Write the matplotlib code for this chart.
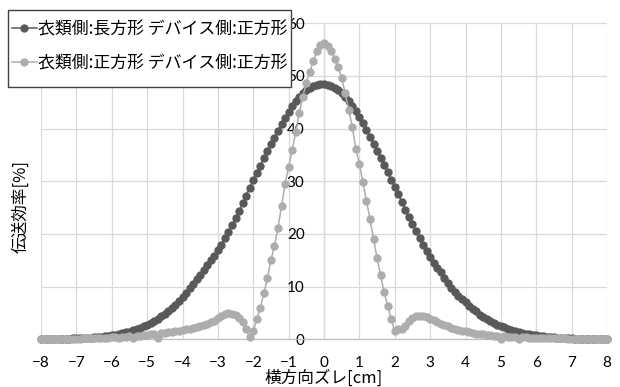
import matplotlib
matplotlib.use('Agg')
import matplotlib.pyplot as plt
from matplotlib.patches import Rectangle

# Lateral offset [cm], measured every 0.1 cm
offset_cm = [
    -8.0, -7.9, -7.8, -7.7, -7.6, -7.5, -7.4, -7.3, -7.2, -7.1,
    -7.0, -6.9, -6.8, -6.7, -6.6, -6.5, -6.4, -6.3, -6.2, -6.1,
    -6.0, -5.9, -5.8, -5.7, -5.6, -5.5, -5.4, -5.3, -5.2, -5.1,
    -5.0, -4.9, -4.8, -4.7, -4.6, -4.5, -4.4, -4.3, -4.2, -4.1,
    -4.0, -3.9, -3.8, -3.7, -3.6, -3.5, -3.4, -3.3, -3.2, -3.1,
    -3.0, -2.9, -2.8, -2.7, -2.6, -2.5, -2.4, -2.3, -2.2, -2.1,
    -2.0, -1.9, -1.8, -1.7, -1.6, -1.5, -1.4, -1.3, -1.2, -1.1,
    -1.0, -0.9, -0.8, -0.7, -0.6, -0.5, -0.4, -0.3, -0.2, -0.1,
    0.0,
    0.1, 0.2, 0.3, 0.4, 0.5, 0.6, 0.7, 0.8, 0.9, 1.0,
    1.1, 1.2, 1.3, 1.4, 1.5, 1.6, 1.7, 1.8, 1.9, 2.0,
    2.1, 2.2, 2.3, 2.4, 2.5, 2.6, 2.7, 2.8, 2.9, 3.0,
    3.1, 3.2, 3.3, 3.4, 3.5, 3.6, 3.7, 3.8, 3.9, 4.0,
    4.1, 4.2, 4.3, 4.4, 4.5, 4.6, 4.7, 4.8, 4.9, 5.0,
    5.1, 5.2, 5.3, 5.4, 5.5, 5.6, 5.7, 5.8, 5.9, 6.0,
    6.1, 6.2, 6.3, 6.4, 6.5, 6.6, 6.7, 6.8, 6.9, 7.0,
    7.1, 7.2, 7.3, 7.4, 7.5, 7.6, 7.7, 7.8, 7.9, 8.0,
]

# clothing side: rectangle / device side: square
eff_rect = [
    0.05, 0.05, 0.06, 0.07, 0.08, 0.09, 0.10, 0.12, 0.14, 0.16,
    0.18, 0.21, 0.24, 0.28, 0.32, 0.37, 0.43, 0.50, 0.58, 0.67,
    0.77, 0.88, 1.00, 1.14, 1.30, 1.48, 1.68, 1.90, 2.15, 2.45,
    2.75, 3.10, 3.50, 3.90, 4.35, 4.85, 5.40, 6.00, 6.60, 7.30,
    8.00, 8.85, 9.70, 10.55, 11.40, 12.30, 13.20, 14.10, 15.00, 15.90,
    16.90, 18.00, 19.20, 20.40, 21.70, 23.00, 24.40, 25.80, 27.30, 28.80,
    30.20, 31.60, 33.00, 34.40, 35.70, 37.00, 38.30, 39.60, 40.80, 42.00,
    43.20, 44.30, 45.20, 46.00, 46.70, 47.30, 47.80, 48.10, 48.30, 48.40,
    48.40,
    48.3, 48.1, 47.8, 47.3, 46.7, 46.0, 45.2, 44.3, 43.3, 42.2,
    41.0, 39.7, 38.4, 37.1, 35.8, 34.5, 33.1, 31.7, 30.3, 28.9,
    27.5, 26.1, 24.5, 23.2, 21.9, 20.6, 19.3, 17.9, 16.7, 15.6,
    14.5, 13.6, 12.7, 11.7, 10.7, 9.8, 9.0, 8.3, 7.6, 7.0,
    6.4, 5.8, 5.3, 4.6, 4.2, 3.8, 3.4, 3.1, 2.8, 2.5,
    2.25, 2.0, 1.8, 1.6, 1.4, 1.25, 1.1, 0.97, 0.85, 0.74,
    0.64, 0.56, 0.48, 0.42, 0.36, 0.31, 0.27, 0.23, 0.20, 0.17,
    0.15, 0.13, 0.11, 0.10, 0.09, 0.08, 0.07, 0.06, 0.05, 0.05,
]

# clothing side: square / device side: square
eff_square = [
    0.05, 0.05, 0.06, 0.06, 0.07, 0.08, 0.08, 0.09, 0.10, 0.11,
    0.13, 0.14, 0.16, 0.18, 0.20, 0.22, 0.24, 0.27, 0.30, 0.33,
    0.36, 0.40, 0.20, 0.47, 0.52, 0.56, 0.25, 0.66, 0.72, 0.78,
    0.85, 0.92, 1.00, 0.30, 1.15, 1.22, 1.30, 1.40, 1.50, 1.62,
    1.75, 1.90, 2.05, 2.20, 2.38, 2.55, 2.75, 2.98, 3.22, 3.50,
    3.95, 4.35, 4.75, 4.90, 4.85, 4.60, 4.00, 3.35, 1.90, 0.40,
    1.50, 3.80, 6.00, 8.70, 11.60, 15.00, 17.80, 21.20, 25.30, 29.50,
    32.80, 35.90, 39.30, 43.00, 46.00, 48.70, 50.80, 52.80, 54.80, 55.80,
    56.20,
    55.7, 54.7, 53.3, 51.7, 49.6, 46.7, 43.5, 40.3, 36.2, 33.3,
    29.8, 26.3, 22.8, 19.0, 15.4, 12.2, 8.9, 6.4, 3.8, 1.5,
    1.9, 2.0, 2.6, 3.4, 4.0, 4.35, 4.45, 4.35, 4.15, 3.9,
    3.6, 3.3, 3.0, 2.7, 2.45, 2.2, 2.0, 1.8, 1.65, 1.5,
    1.35, 1.2, 1.1, 1.0, 0.92, 0.85, 0.78, 0.72, 0.66, 0.10,
    0.58, 0.53, 0.49, 0.45, 0.10, 0.38, 0.35, 0.32, 0.30, 0.28,
    0.26, 0.24, 0.22, 0.20, 0.19, 0.18, 0.17, 0.16, 0.15, 0.14,
    0.13, 0.12, 0.12, 0.11, 0.10, 0.10, 0.09, 0.09, 0.08, 0.08,
]

series_labels = ['衣類側:長方形 デバイス側:正方形', '衣類側:正方形 デバイス側:正方形']
x_ticks = [-8, -7, -6, -5, -4, -3, -2, -1, 0, 1, 2, 3, 4, 5, 6, 7, 8]
y_ticks = [0, 10, 20, 30, 40, 50, 60]

num_font = ['Lato', 'DejaVu Sans']
jp_font = ['Noto Sans CJK JP', 'DejaVu Sans']

fig = plt.figure(figsize=(6.2, 3.87), dpi=100)
ax = fig.add_axes([41 / 620, 1 - 339.3 / 387, 566 / 620, 316 / 387])

ax.plot(offset_cm, eff_rect, color='#595959', marker='o', markersize=5,
        linewidth=1.1, label=series_labels[0], clip_on=False, zorder=3)
ax.plot(offset_cm, eff_square, color='#ADADAD', marker='o', markersize=5,
        linewidth=1.1, label=series_labels[1], clip_on=False, zorder=4)

ax.set_xlim(-8, 8)
ax.set_ylim(0, 60)
ax.set_xticks(x_ticks)
ax.set_yticks(y_ticks)
ax.grid(True, color='#D9D9D9', linewidth=0.9)
ax.set_axisbelow(True)

for s in ['top', 'right']:
    ax.spines[s].set_visible(False)
ax.spines['left'].set_position(('data', 0))
ax.spines['left'].set_color('#D9D9D9')
ax.spines['left'].set_linewidth(0.9)
ax.spines['bottom'].set_color('#BFBFBF')
ax.spines['bottom'].set_linewidth(0.9)
ax.tick_params(length=0)
ax.tick_params(axis='y', pad=14)
ax.tick_params(axis='x', pad=12)
for lab in ax.get_xticklabels() + ax.get_yticklabels():
    lab.set_fontfamily(num_font)
    lab.set_fontsize(11)
    lab.set_color('#000000')

ax.set_xlabel('横方向ズレ[cm]', family=jp_font, fontsize=12)
ax.xaxis.set_label_coords(0.5, -0.095)
ax.set_ylabel('伝送効率[%]', family=jp_font, fontsize=12)
ax.yaxis.set_label_coords(-0.02, 0.42)

# legend box, drawn separately so it can be taller than the entries need
box = Rectangle((8 / 620, 1 - 87 / 387), 283 / 620, 77 / 387,
                transform=fig.transFigure, facecolor='white',
                edgecolor='#404040', linewidth=1.0, zorder=4)
fig.add_artist(box)

leg = fig.legend(loc='upper left', bbox_to_anchor=(7 / 620, 1 - 15 / 387),
                 prop={'family': jp_font, 'size': 12.2}, frameon=False,
                 handlelength=1.45, handletextpad=0.1,
                 labelspacing=0.95, borderpad=0.3, borderaxespad=0)
leg.set_zorder(5)

fig.savefig('out.png', dpi=100)
